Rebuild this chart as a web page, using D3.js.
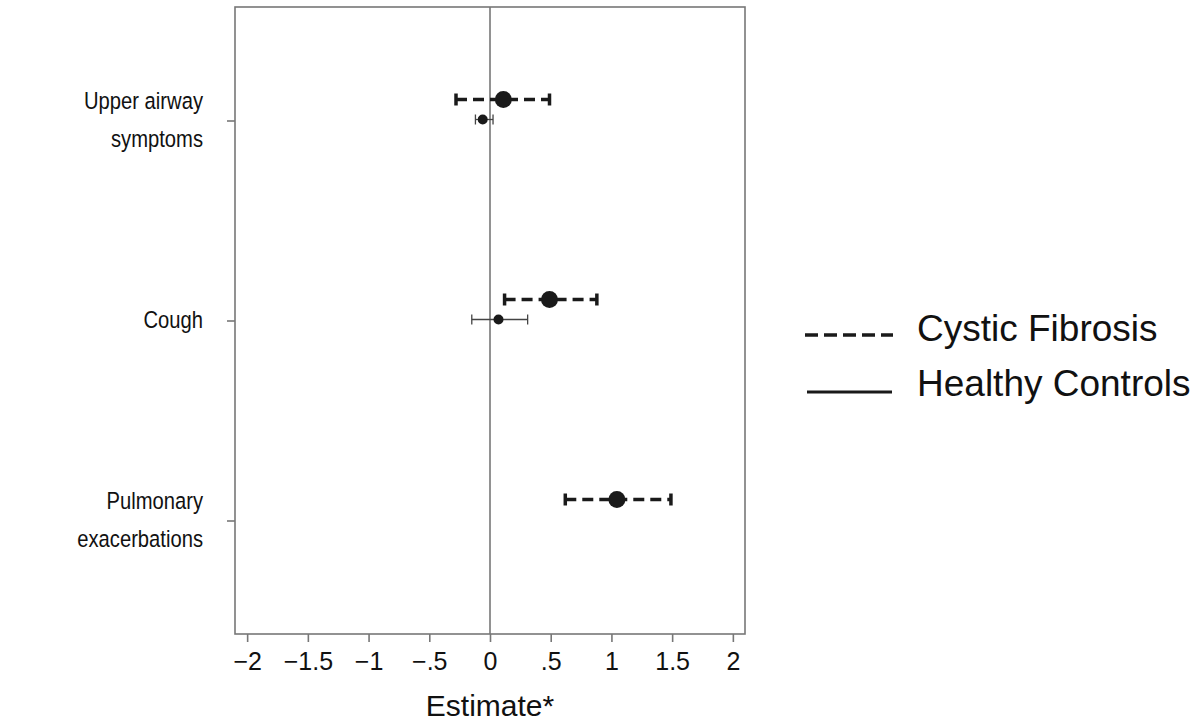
<!DOCTYPE html>
<html lang="en">
<head>
    <meta charset="UTF-8">
    <title>Estimate</title>
    <script src="https://cdn.jsdelivr.net/npm/d3@7"></script>
    <style>
        body { margin: 0; background: #fff; }
        text { font-family: "Liberation Sans", Arial, sans-serif; fill: #111; }
    </style>
</head>
<body>
<script>
    // data
    var categories = ["Upper airway symptoms", "Cough", "Pulmonary exacerbations"];
    var catLines = [["Upper airway", "symptoms"], ["Cough"], ["Pulmonary", "exacerbations"]];
    var cfEst = [0.11, 0.49, 1.045];
    var cfLow = [-0.28, 0.12, 0.62];
    var cfHigh = [0.49, 0.88, 1.49];
    var hcEst = [-0.06, 0.07, null];
    var hcLow = [-0.12, -0.15, null];
    var hcHigh = [0.025, 0.31, null];
    var xTicks = [-2, -1.5, -1, -0.5, 0, 0.5, 1, 1.5, 2];
    var xTickLabels = ["\u22122", "\u22121.5", "\u22121", "\u2212.5", "0", ".5", "1", "1.5", "2"];
    var legendNames = ["Cystic Fibrosis", "Healthy Controls"];

    var width = 1196, height = 721;
    // plot box
    var pLeft = 235, pRight = 745, pTop = 7, pBottom = 634;

    var svg = d3.select("body").append("svg")
        .attr("width", width)
        .attr("height", height);

    var x = d3.scaleLinear().domain([-2.1, 2.1]).range([pLeft, pRight]);
    var y = d3.scalePoint().domain(categories).range([pTop, pBottom]).padding(0.5675);

    // frame
    svg.append("rect")
        .attr("x", pLeft).attr("y", pTop)
        .attr("width", pRight - pLeft).attr("height", pBottom - pTop)
        .attr("fill", "none").attr("stroke", "#777").attr("stroke-width", 1.6);

    // zero line
    svg.append("line")
        .attr("x1", x(0)).attr("x2", x(0))
        .attr("y1", pTop).attr("y2", pBottom)
        .attr("stroke", "#777").attr("stroke-width", 1.6);

    // x axis
    var xAxis = svg.append("g")
        .attr("transform", "translate(0," + pBottom + ")")
        .call(d3.axisBottom(x).tickValues(xTicks)
            .tickFormat(function (d, i) { return xTickLabels[i]; })
            .tickSize(8).tickSizeOuter(0).tickPadding(10));
    xAxis.select(".domain").remove();
    xAxis.selectAll(".tick line").attr("stroke", "#777").attr("stroke-width", 1.6);
    xAxis.selectAll(".tick text")
        .style("font-family", "Liberation Sans, Arial, sans-serif")
        .style("font-size", "25px").attr("fill", "#222");

    svg.append("text")
        .attr("x", x(0)).attr("y", 716)
        .attr("text-anchor", "middle")
        .style("font-size", "30px")
        .text("Estimate*");

    // y axis
    var yAxis = svg.append("g")
        .attr("transform", "translate(" + pLeft + ",0)")
        .call(d3.axisLeft(y).tickSize(8).tickSizeOuter(0).tickFormat(""));
    yAxis.select(".domain").remove();
    yAxis.selectAll(".tick line").attr("stroke", "#777").attr("stroke-width", 1.6);

    // category labels, slightly condensed like the original
    categories.forEach(function (c, i) {
        var lines = catLines[i];
        var t = svg.append("text")
            .attr("text-anchor", "end")
            .attr("transform", "translate(203,0) scale(0.86,1)")
            .attr("fill", "#000")
            .style("font-size", "23.5px");
        lines.forEach(function (s, j) {
            t.append("tspan")
                .attr("x", 0)
                .attr("y", y(c) + 8 + (j - (lines.length - 1) / 2) * 38)
                .text(s);
        });
    });

    // cystic fibrosis (dashed, thick)
    var cfOff = -21, hcOff = -1;
    var cf = svg.append("g");
    categories.forEach(function (c, i) {
        var yy = y(c) + cfOff;
        cf.append("line")
            .attr("x1", x(cfLow[i])).attr("x2", x(cfHigh[i]))
            .attr("y1", yy).attr("y2", yy)
            .attr("stroke", "#1a1a1a").attr("stroke-width", 3.5)
            .attr("stroke-dasharray", "11,6");
        [cfLow[i], cfHigh[i]].forEach(function (v) {
            cf.append("line")
                .attr("x1", x(v)).attr("x2", x(v))
                .attr("y1", yy - 6).attr("y2", yy + 6)
                .attr("stroke", "#1a1a1a").attr("stroke-width", 3.5);
        });
        cf.append("circle")
            .attr("cx", x(cfEst[i])).attr("cy", yy).attr("r", 8.5)
            .attr("fill", "#1a1a1a");
    });

    // healthy controls (solid, thin)
    var hc = svg.append("g");
    categories.forEach(function (c, i) {
        if (hcEst[i] == null) return;
        var yy = y(c) + hcOff;
        hc.append("line")
            .attr("x1", x(hcLow[i])).attr("x2", x(hcHigh[i]))
            .attr("y1", yy).attr("y2", yy)
            .attr("stroke", "#444").attr("stroke-width", 1.3);
        [hcLow[i], hcHigh[i]].forEach(function (v) {
            hc.append("line")
                .attr("x1", x(v)).attr("x2", x(v))
                .attr("y1", yy - 5).attr("y2", yy + 5)
                .attr("stroke", "#444").attr("stroke-width", 1.3);
        });
        hc.append("circle")
            .attr("cx", x(hcEst[i])).attr("cy", yy).attr("r", 5)
            .attr("fill", "#1a1a1a");
    });

    // legend
    var lg = svg.append("g");
    lg.append("line")
        .attr("x1", 805).attr("x2", 893).attr("y1", 335).attr("y2", 335)
        .attr("stroke", "#1a1a1a").attr("stroke-width", 3.5)
        .attr("stroke-dasharray", "13,6");
    lg.append("text").attr("x", 917).attr("y", 341)
        .style("font-size", "37px").text(legendNames[0]);
    lg.append("line")
        .attr("x1", 807).attr("x2", 892).attr("y1", 392).attr("y2", 392)
        .attr("stroke", "#1a1a1a").attr("stroke-width", 3);
    lg.append("text").attr("x", 917).attr("y", 396)
        .style("font-size", "37px").text(legendNames[1]);
</script>
</body>
</html>
